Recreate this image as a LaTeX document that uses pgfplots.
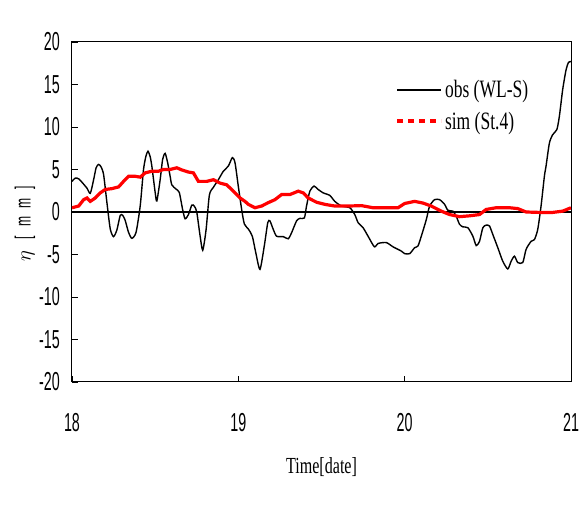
\documentclass[border=0pt]{standalone}
\usepackage{fontspec}
\usepackage{pgfplots}
\pgfplotsset{compat=1.18}
\setmainfont{Liberation Serif}
\newfontfamily\condsans[FakeStretch=0.55]{Liberation Sans}
\newfontfamily\condserif[FakeStretch=0.7]{Liberation Serif}

\begin{document}
\begin{tikzpicture}
\begin{axis}[
    name=ax,
    scale only axis,
    width=499pt, height=340pt,
    xmin=18, xmax=21, ymin=-20, ymax=20,
    xtick={18,19,20,21},
    ytick={-20,-15,...,20},
    tick align=inside,
    xtick pos=lower, ytick pos=left,
    major tick length=6pt,
    tick style={black, line width=0.8pt},
    axis line style={black, line width=1pt},
    /pgf/number format/assume math mode=true,
    ticklabel style={font=\condsans\fontsize{26}{28}\selectfont},
    x tick label style={anchor=north, inner sep=0pt, yshift=-31pt},
    y tick label style={anchor=east, inner sep=0pt, xshift=-12pt},
    xlabel={Time[date]},
    xlabel style={font=\condserif\fontsize{23}{25}\selectfont, anchor=center,
        at={(axis description cs:0.5,-0.25)}},
    legend style={draw=none, fill=none, at={(0.641,0.90)}, anchor=north west,
        font=\condserif\fontsize{25}{27}\selectfont, row sep=9pt,
        nodes={inner sep=2pt}},
    legend cell align=left,
  ]
  % zero line
  \addplot[black, line width=2pt, forget plot] coordinates {(18,0) (21,0)};

  % observed water level
  \addplot[black, line width=1.4pt, smooth, tension=0.4,
      legend image code/.code={\draw[black, line width=1.8pt] (0pt,0pt) -- (44pt,0pt);}]
    coordinates {
    (18.00,3.6) (18.02,4.0) (18.04,3.9) (18.06,3.5) (18.09,2.8) (18.11,2.2)
    (18.13,3.8) (18.145,5.2) (18.16,5.6) (18.175,5.3) (18.19,4.4) (18.21,1.1)
    (18.23,-2.0) (18.25,-2.9) (18.27,-2.1) (18.29,-0.4) (18.305,-0.4) (18.32,-1.0)
    (18.34,-2.4) (18.36,-3.1) (18.385,-2.4) (18.41,0.7) (18.43,5.0) (18.445,6.6)
    (18.457,7.15) (18.47,6.5) (18.48,5.4) (18.50,2.3) (18.51,1.3) (18.53,3.8)
    (18.545,6.2) (18.56,6.9) (18.575,5.8) (18.59,4.2) (18.60,3.2) (18.625,2.7)
    (18.645,2.3) (18.665,0.3) (18.68,-0.8) (18.70,-0.3) (18.72,0.8) (18.735,0.7)
    (18.75,0.0) (18.77,-2.8) (18.786,-4.5) (18.806,-2.1) (18.826,2.0) (18.85,2.9)
    (18.88,3.8) (18.91,4.8) (18.94,5.4) (18.964,6.4) (18.98,5.8) (19.00,3.0)
    (19.02,0.3) (19.036,-1.4) (19.06,-2.0) (19.084,-2.85) (19.105,-4.8) (19.13,-6.75)
    (19.156,-4.0) (19.177,-1.25) (19.19,-1.05) (19.21,-2.05) (19.23,-2.85) (19.27,-2.9)
    (19.30,-3.15) (19.32,-2.45) (19.35,-1.05) (19.37,-0.75) (19.397,-0.7) (19.41,0.7)
    (19.43,2.45) (19.455,3.05) (19.48,2.65) (19.51,2.25) (19.55,1.95) (19.58,1.25)
    (19.62,0.7) (19.67,0.5) (19.70,-0.3) (19.72,-1.25) (19.75,-1.85) (19.78,-2.85)
    (19.818,-4.1) (19.84,-3.7) (19.89,-3.6) (19.93,-4.1) (19.98,-4.6) (20.00,-4.9)
    (20.03,-4.9) (20.06,-4.2) (20.08,-4.0) (20.10,-2.85) (20.13,-0.9) (20.15,0.7)
    (20.18,1.45) (20.21,1.45) (20.24,0.9) (20.26,0.2) (20.29,0.1) (20.31,-0.5)
    (20.33,-1.45) (20.35,-1.75) (20.38,-1.85) (20.41,-2.85) (20.43,-3.95) (20.45,-3.45)
    (20.47,-1.85) (20.49,-1.55) (20.51,-1.65) (20.53,-2.65) (20.56,-4.2) (20.59,-5.8)
    (20.62,-6.7) (20.64,-5.8) (20.66,-5.2) (20.68,-5.95) (20.71,-5.95) (20.73,-4.4)
    (20.76,-3.45) (20.78,-3.25) (20.80,-2.05) (20.82,0.7) (20.84,4.2) (20.85,5.4)
    (20.87,8.1) (20.89,9.1) (20.915,9.7) (20.93,11.25) (20.95,14.4) (20.97,16.7)
    (20.985,17.6) (21.00,17.7)
    };
  \addlegendentry{obs (WL-S)}

  % simulated
  \addplot[red, line width=3.2pt,
      legend image code/.code={\draw[red, line width=4pt, dash pattern=on 6pt off 5pt] (0pt,0pt) -- (44pt,0pt);}]
    coordinates {
    (18.00,0.5) (18.04,0.7) (18.07,1.45) (18.09,1.65) (18.11,1.25) (18.14,1.65)
    (18.17,2.25) (18.20,2.65) (18.24,2.75) (18.28,2.95) (18.31,3.6) (18.34,4.2)
    (18.38,4.2) (18.41,4.1) (18.44,4.6) (18.48,4.8) (18.52,4.8) (18.55,5.0)
    (18.59,5.0) (18.63,5.2) (18.66,4.95) (18.70,4.7) (18.73,4.6) (18.76,3.6)
    (18.81,3.6) (18.85,3.8) (18.89,3.4) (18.93,3.2) (18.97,2.45) (19.01,1.65)
    (19.04,1.25) (19.06,0.9) (19.10,0.5) (19.14,0.7) (19.18,1.1) (19.22,1.45)
    (19.26,2.05) (19.31,2.05) (19.36,2.45) (19.39,2.25) (19.42,1.65) (19.47,1.15)
    (19.52,0.9) (19.58,0.7) (19.66,0.7) (19.74,0.75) (19.81,0.5) (19.88,0.5)
    (19.96,0.5) (20.00,1.0) (20.06,1.25) (20.11,1.05) (20.16,0.7) (20.22,0.1)
    (20.27,-0.3) (20.33,-0.55) (20.39,-0.45) (20.45,-0.3) (20.49,0.3) (20.55,0.5)
    (20.63,0.5) (20.68,0.4) (20.73,0.0) (20.81,-0.05) (20.89,-0.05) (20.95,0.1)
    (21.00,0.5)
    };
  \addlegendentry{sim (St.4)}
\end{axis}
% y axis label
\node[rotate=90, anchor=center, inner sep=0pt, font=\condsans\fontsize{22}{24}\selectfont]
  at ([xshift=-47pt, yshift=-12pt]ax.west)
  {$\eta$\hspace{12pt}[\hspace{9pt}m\hspace{8pt}m\hspace{9pt}]};
\pgfresetboundingbox
\path ([shift={(-72pt,-138pt)}]ax.south west) rectangle ([shift={(13pt,42pt)}]ax.north east);
\end{tikzpicture}
\end{document}
